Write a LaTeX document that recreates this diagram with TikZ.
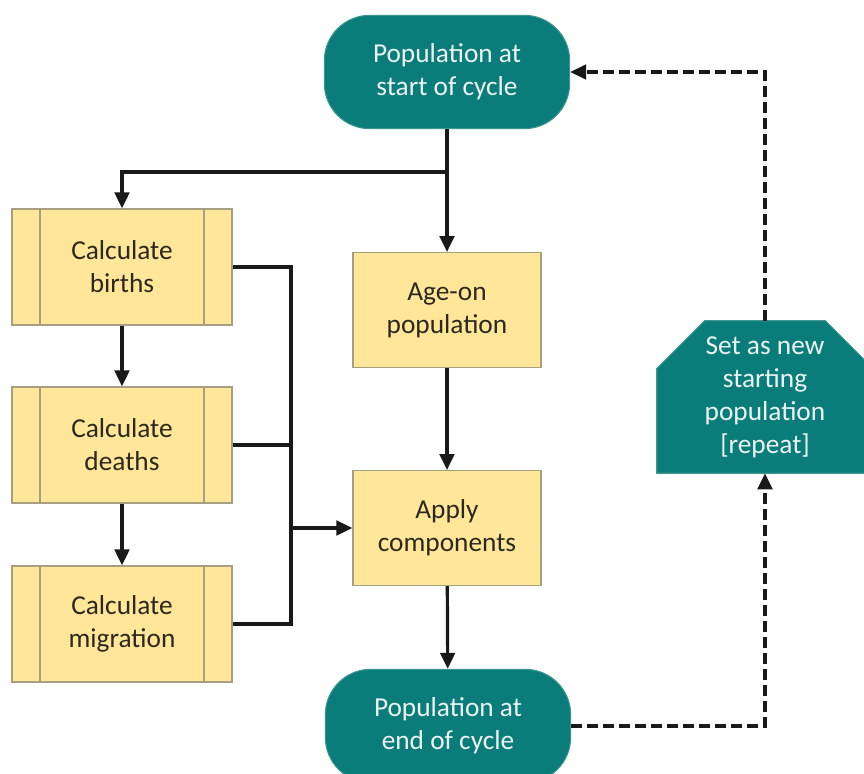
\documentclass[tikz,border=0pt]{standalone}
\usepackage{fontspec}
\setmainfont{Carlito}
\usetikzlibrary{arrows.meta,backgrounds}
\definecolor{popteal}{RGB}{10,124,121}
\definecolor{boxfill}{RGB}{255,230,153}
\definecolor{boxline}{RGB}{168,158,130}
\definecolor{boxtext}{RGB}{45,40,30}
\begin{document}
\begin{tikzpicture}[x=0.75pt,y=-0.75pt,
  every node/.style={font=\fontsize{20.5}{24.75}\selectfont, align=center},
  terminal/.style={fill=popteal, draw=popteal!80!white, line width=0.8pt, text=white!92!popteal,
    rounded corners=34pt, minimum width=184pt, minimum height=85pt},
  process/.style={fill=boxfill, draw=boxline, line width=1pt, text=boxtext,
    minimum width=141pt, minimum height=86pt},
  subproc/.style={process, minimum width=165pt, minimum height=87pt,
    path picture={
      \draw[boxline, line width=1pt] ([xshift=21pt]path picture bounding box.north west) -- ([xshift=21pt]path picture bounding box.south west);
      \draw[boxline, line width=1pt] ([xshift=-21pt]path picture bounding box.north east) -- ([xshift=-21pt]path picture bounding box.south east);
    }},
  setshape/.style={text=white!92!popteal, minimum width=162pt, minimum height=114pt, inner sep=0pt},
  setfill/.style={fill=popteal, draw=popteal!80!white, line width=0.8pt},
  link/.style={line width=2.4pt, black!90},
  flow/.style={link, -{Triangle[length=12pt,width=11pt]}},
  back/.style={flow, dash pattern=on 8pt off 4pt}]
  \useasboundingbox (0,0) rectangle (864,774);

  \node[terminal] (start) at (447,72) {Population at\\start of cycle};
  \node[subproc] (births) at (122,267) {Calculate\\births};
  \node[subproc] (deaths) at (122,445) {Calculate\\deaths};
  \node[subproc] (migration) at (122,624) {Calculate\\migration};
  \node[process] (ageon) at (447,310) {Age-on\\population};
  \node[process] (apply) at (447,528) {Apply\\components};
  \node[terminal] (endpop) at (448,726) {Population at\\end of cycle};
  \node[setshape] (setnew) at (765,397) {Set as new\\starting\\population\\{[repeat]}};
  \begin{scope}[on background layer]
    \filldraw[setfill] (setnew.south west) -- ([yshift=-36pt]setnew.north west)
      -- ([xshift=36pt]setnew.north west) -- ([xshift=-36pt]setnew.north east)
      -- ([yshift=-36pt]setnew.north east) -- (setnew.south east) -- cycle;
  \end{scope}

  \coordinate (split) at (447,172);
  \coordinate (bus) at (291,528);

  \draw[flow] (start) -- (ageon);
  \draw[flow] (split) -| (births);
  \draw[flow] (births) -- (deaths);
  \draw[flow] (deaths) -- (migration);
  \draw[link] (births.east) -| (bus |- migration.east) -- (migration.east);
  \draw[link] (deaths.east) -- (bus |- deaths.east);
  \draw[flow] (bus) -- (apply);
  \draw[flow] (ageon) -- (apply);
  \draw[flow] (apply) -- (endpop);
  \draw[back] (endpop.east) -| (setnew.south);
  \draw[back] (setnew.north) |- (start.east);
\end{tikzpicture}
\end{document}
